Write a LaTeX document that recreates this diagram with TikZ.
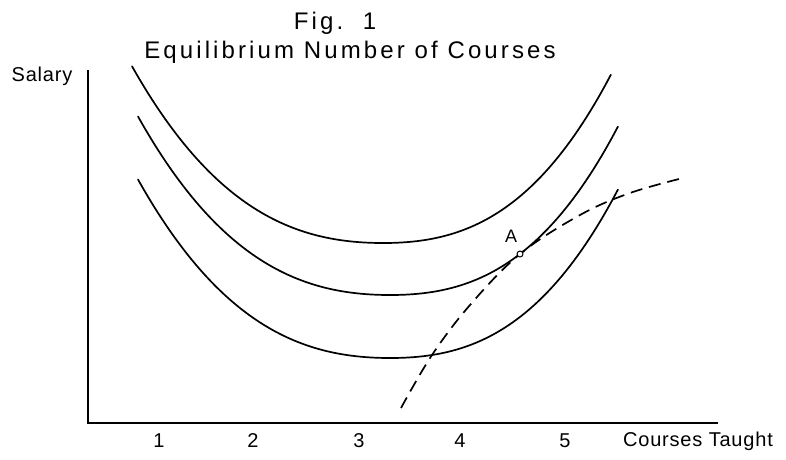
\documentclass[tikz,border=0pt]{standalone}
\usepackage{fontspec}
\setmainfont{Liberation Sans}
\newfontfamily\titlefont[LetterSpace=13]{Liberation Sans}
\newfontfamily\labelfont[LetterSpace=4]{Liberation Sans}
\begin{document}
\begin{tikzpicture}[x=1pt,y=-1pt,
  axisline/.style={line width=2.2pt},
  curve/.style={line width=1.7pt, line join=round, line cap=round},
  dcurve/.style={line width=1.7pt, dash pattern=on 12pt off 7pt},
  ttl/.style={inner sep=0pt, font=\titlefont\fontsize{24}{28}\selectfont},
  lbl/.style={inner sep=0pt, font=\labelfont\fontsize{20}{23}\selectfont}]
\useasboundingbox (0,0) rectangle (786,459);
% titles
\node[ttl] (fig) at (335,23) {Fig.\ \ 1};
\node[ttl] (title) at (350,52) {Equilibrium Number of Courses};
% axes
\coordinate (ytop) at (88,70);
\coordinate (O) at (88,423);
\coordinate (xend) at (718,423);
\draw[axisline] (ytop) -- (O) -- (xend);
\node[lbl] (ylab) at (42,76) {Salary};
\node[lbl] (t1) at (159,441) {1};
\node[lbl] (t2) at (253,441) {2};
\node[lbl] (t3) at (359,441) {3};
\node[lbl] (t4) at (460,441) {4};
\node[lbl] (t5) at (565,441) {5};
\node[lbl] (xlab) at (698,441) {Courses Taught};
% indifference curves (same shape, shifted)
\draw[curve] plot[domain=-2.51:2.28, samples=120]
  ({383+100*\x}, {243-(13.5*\x*\x+7.05*abs(\x)*\x*\x+1.25*\x*\x*\x)});
\draw[curve] plot[domain=-2.52:2.28, samples=120]
  ({390+100*\x}, {295-(13.5*\x*\x+7.05*abs(\x)*\x*\x+1.25*\x*\x*\x)});
\draw[curve] plot[domain=-2.52:2.28, samples=120]
  ({390+100*\x}, {358-(13.5*\x*\x+7.05*abs(\x)*\x*\x+1.25*\x*\x*\x)});
% dashed curve
\draw[dcurve] plot[smooth, tension=0.6] coordinates {(401,408) (432,355) (470,305) (520,254) (580,215) (630,193) (683,178)};
% point A
\node[circle, draw, line width=1pt, fill=white, inner sep=0pt, minimum size=6pt] (A) at (520,254) {};
\node[lbl, font=\labelfont\fontsize{18}{21}\selectfont] (Alab) at (511,236) {A};
\end{tikzpicture}
\end{document}
